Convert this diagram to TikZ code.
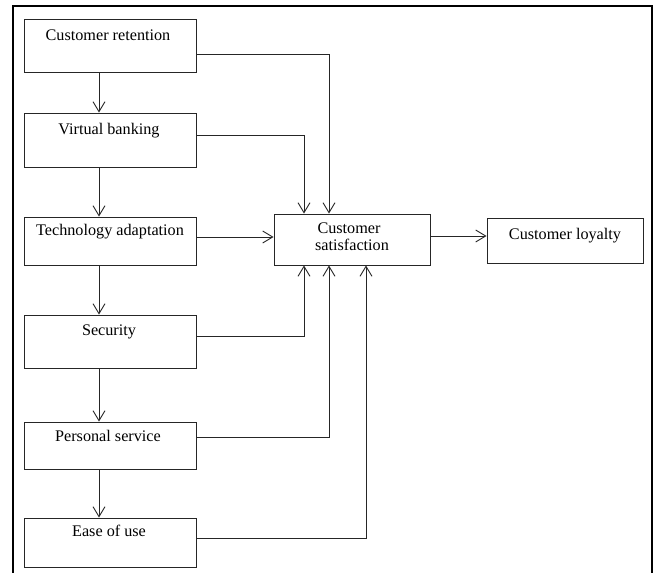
\documentclass[tikz,border=0pt]{standalone}
\usepackage{fontspec}
\setmainfont{Liberation Serif}
\usetikzlibrary{arrows.meta}
\begin{document}
\begin{tikzpicture}[x=1pt,y=-1pt,
  box/.style={draw=black!85,line width=0.9pt,rectangle,inner sep=0pt},
  lbl/.style={anchor=base,inner sep=0pt,font=\fontsize{16.2}{19}\selectfont},
  conn/.style={draw=black!85,line width=0.9pt},
  arr/.style={conn,-{Straight Barb[length=10pt,width=12pt,line width=0.9pt]}}]
\useasboundingbox (0,0) rectangle (654,573);
\draw[line width=1.5pt] (13,573) -- (13,6) -- (652,6) -- (652,573);
% boxes
\node[box,minimum width=172pt,minimum height=53pt] (cr) at (110,45.5) {};
\node[box,minimum width=172pt,minimum height=54pt] (vb) at (110,140) {};
\node[box,minimum width=172pt,minimum height=48pt] (ta) at (110,241) {};
\node[box,minimum width=172pt,minimum height=53pt] (se) at (110,341.5) {};
\node[box,minimum width=172pt,minimum height=47pt] (ps) at (110,445.5) {};
\node[box,minimum width=172pt,minimum height=49pt] (eu) at (110,542.5) {};
\node[box,minimum width=156pt,minimum height=51pt] (cs) at (352,239.5) {};
\node[box,minimum width=156pt,minimum height=45pt] (cl) at (565,240.5) {};
% labels
\node[lbl] (tcr) at (108,40.7) {Customer retention};
\node[lbl] (tvb) at (109,134) {Virtual banking};
\node[lbl] (tta) at (110,235) {Technology adaptation};
\node[lbl] (tse) at (109,335) {Security};
\node[lbl] (tps) at (108,441.5) {Personal service};
\node[lbl] (teu) at (109,536) {Ease of use};
\node[lbl] (tcs1) at (349,233) {Customer};
\node[lbl] (tcs2) at (352,250) {satisfaction};
\node[lbl] (tcl) at (565,239) {Customer loyalty};
% vertical chain
\draw[arr] ([xshift=-11pt]cr.south) -- ([xshift=-11pt]vb.north);
\draw[arr] ([xshift=-11pt]vb.south) -- ([xshift=-11pt]ta.north);
\draw[arr] ([xshift=-11pt]ta.south) -- ([xshift=-11pt]se.north);
\draw[arr] ([xshift=-11pt]se.south) -- ([xshift=-11pt]ps.north);
\draw[arr] ([xshift=-11pt]ps.south) -- ([xshift=-11pt]eu.north);
% into satisfaction
\draw[arr] ([yshift=-8.5pt]cr.east) -| ([xshift=-23pt]cs.north);
\draw[arr] ([yshift=5pt]vb.east) -| ([xshift=-48pt]cs.north);
\draw[arr] ([yshift=4pt]ta.east) -- ([yshift=2.5pt]cs.west);
\draw[arr] ([yshift=5.5pt]se.east) -| ([xshift=-48pt]cs.south);
\draw[arr] ([yshift=8.5pt]ps.east) -| ([xshift=-23pt]cs.south);
\draw[arr] ([yshift=4.5pt]eu.east) -| ([xshift=14pt]cs.south);
\draw[arr] ([yshift=3.5pt]cs.east) -- ([yshift=4.5pt]cl.west);
\end{tikzpicture}
\end{document}
